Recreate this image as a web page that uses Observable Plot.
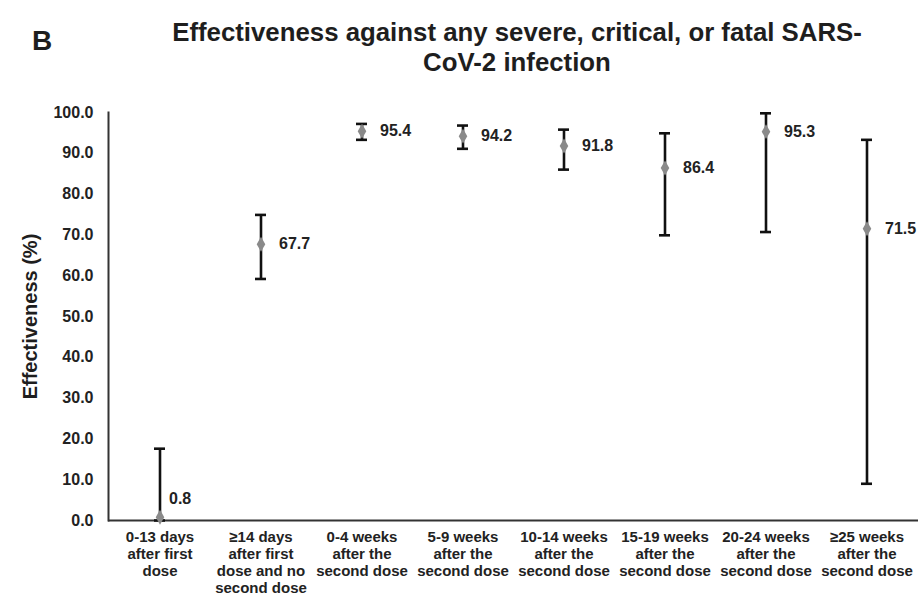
<!DOCTYPE html>
<html>
<head>
<meta charset="utf-8">
<script src="https://cdn.jsdelivr.net/npm/d3@7"></script>
<script src="https://cdn.jsdelivr.net/npm/@observablehq/plot@0.6"></script>
<style>
  body { margin: 0; background: #fff; }
  #wrap { width: 918px; font-family: "Liberation Sans", Arial, sans-serif; font-weight: bold; color: #1e1e1e; }
  #head { position: relative; height: 95px; }
  #panel { position: absolute; left: 32px; top: 26px; font-size: 28px; line-height: 30px; }
  #title { position: absolute; left: 117px; width: 800px; top: 17px; text-align: center; font-size: 25.8px; line-height: 30px; }
</style>
</head>
<body>
<div id="wrap">
  <div id="head">
    <div id="panel">B</div>
    <div id="title">Effectiveness against any severe, critical, or fatal SARS-<br>CoV-2 infection</div>
  </div>
  <div id="chart"></div>
</div>
<script>
const categories = [
  "0-13 days\nafter first\ndose",
  "≥14 days\nafter first\ndose and no\nsecond dose",
  "0-4 weeks\nafter the\nsecond dose",
  "5-9 weeks\nafter the\nsecond dose",
  "10-14 weeks\nafter the\nsecond dose",
  "15-19 weeks\nafter the\nsecond dose",
  "20-24 weeks\nafter the\nsecond dose",
  "≥25 weeks\nafter the\nsecond dose"
];
const effectiveness = [0.8, 67.7, 95.4, 94.2, 91.8, 86.4, 95.3, 71.5];
const lowerCI = [0.0, 59.2, 93.3, 91.1, 86.0, 69.9, 70.7, 9.0];
const upperCI = [17.6, 74.9, 97.2, 96.8, 95.8, 94.9, 99.8, 93.3];
const yTicks = [0, 10, 20, 30, 40, 50, 60, 70, 80, 90, 100];
const yLabel = "Effectiveness (%)";

const data = categories.map((c, i) => ({cat: c, val: effectiveness[i], lo: lowerCI[i], hi: upperCI[i], first: i === 0}));

const chart = Plot.plot({
  width: 918,
  height: 505,
  marginLeft: 108,
  marginRight: 0,
  marginTop: 17,
  marginBottom: 80,
  style: {fontFamily: "Liberation Sans, Arial, sans-serif", fontWeight: "bold", color: "#222", background: "#fff", overflow: "visible"},
  x: {type: "band", domain: categories, padding: 0},
  y: {domain: [0, 100]},
  marks: [
    Plot.axisX({tickSize: 0, tickPadding: 9, fontSize: 15, lineHeight: 1.15, label: null, textOverflow: null}),
    Plot.axisY({ticks: yTicks, tickFormat: d => d.toFixed(1), tickSize: 0, tickPadding: 15, fontSize: 16, label: null}),
    Plot.text([yLabel], {frameAnchor: "left", textAnchor: "middle", rotate: -90, dx: -78, fontSize: 20, fontWeight: "bold", fill: "#1e1e1e"}),
    Plot.ruleY([0], {stroke: "#333", strokeWidth: 2}),
    Plot.frame({anchor: "left", stroke: "#333", strokeWidth: 2}),
    Plot.ruleX(data, {x: "cat", y1: "lo", y2: "hi", stroke: "#111", strokeWidth: 2.6}),
    Plot.tickY(data, {x: "cat", y: "hi", insetLeft: 45, insetRight: 45, stroke: "#111", strokeWidth: 2.6}),
    Plot.tickY(data, {x: "cat", y: "lo", insetLeft: 45, insetRight: 45, stroke: "#111", strokeWidth: 2.6}),
    Plot.dot(data, {x: "cat", y: "val", symbol: "diamond", r: 4.5, fill: "#8a8a8a", stroke: null}),
    Plot.text(data.filter(d => !d.first), {x: "cat", y: "val", text: d => d.val.toFixed(1), textAnchor: "start", dx: 18, fontSize: 16, fill: "#222"}),
    Plot.text(data.filter(d => d.first), {x: "cat", y: "val", text: d => d.val.toFixed(1), textAnchor: "start", dx: 9, dy: -18, fontSize: 16, fill: "#222"})
  ]
});
document.getElementById("chart").appendChild(chart);
</script>
</body>
</html>
